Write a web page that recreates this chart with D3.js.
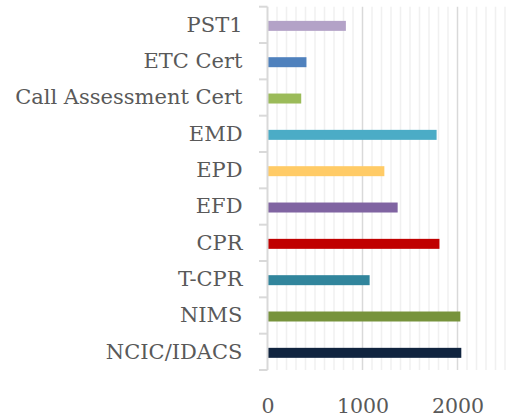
<!DOCTYPE html>
<html>
<head>
<meta charset="utf-8">
<script src="https://cdn.jsdelivr.net/npm/d3@7"></script>
<style>
  html, body { margin: 0; padding: 0; background: #fff; }
  svg { display: block; }
  text { font-family: "DejaVu Serif", "Liberation Serif", serif; fill: #595959; }
</style>
</head>
<body>
<svg id="chart" width="517" height="420"></svg>
<script>
// Data (bottom to top, as in the source chart)
const categories = ["NCIC/IDACS", "NIMS", "T-CPR", "CPR", "EFD", "EPD", "EMD", "Call Assessment Cert", "ETC Cert", "PST1"];
const values = [2040, 2030, 1075, 1810, 1370, 1230, 1780, 355, 410, 825];
const colors = ["#10243F", "#77933C", "#31859C", "#C00000", "#8064A2", "#FFCB66", "#4BACC6", "#9BBB59", "#4F81BD", "#B3A2C7"];
const xTickValues = [0, 1000, 2000];
const xMax = 2500;
const minorStep = 100;

const svg = d3.select("#chart");
const mLeft = 267.5, mRight = 505, mTop = 6.7, mBottom = 370;

const x = d3.scaleLinear().domain([0, xMax]).range([mLeft, mRight]);
const y = d3.scaleBand()
  .domain(categories.slice().reverse())
  .range([mTop, mBottom])
  .paddingInner(0.725)
  .paddingOuter(0.3625);

// minor gridlines
svg.append("g")
  .selectAll("line")
  .data(d3.range(minorStep, xMax + 1, minorStep).filter(v => v % 1000 !== 0))
  .join("line")
  .attr("x1", d => x(d)).attr("x2", d => x(d))
  .attr("y1", mTop).attr("y2", mBottom)
  .attr("stroke", "#f0f0f0").attr("stroke-width", 1.5);

// major gridlines
svg.append("g")
  .selectAll("line")
  .data(xTickValues.filter(v => v > 0))
  .join("line")
  .attr("x1", d => x(d)).attr("x2", d => x(d))
  .attr("y1", mTop).attr("y2", mBottom)
  .attr("stroke", "#d9d9d9").attr("stroke-width", 1.5);

// bars
svg.append("g")
  .selectAll("rect")
  .data(categories)
  .join("rect")
  .attr("x", x(0))
  .attr("y", d => y(d) + 1)
  .attr("width", (d, i) => x(values[i]) - x(0))
  .attr("height", y.bandwidth())
  .attr("fill", (d, i) => colors[i]);

// y axis
const yAxis = d3.axisLeft(y).tickSize(0).tickPadding(25);
const gy = svg.append("g").attr("transform", `translate(${mLeft},0)`).call(yAxis);
gy.select(".domain").remove();
gy.selectAll("text").attr("font-size", 21).attr("font-family", null).attr("fill", "#595959");

svg.append("line")
  .attr("x1", mLeft).attr("x2", mLeft).attr("y1", mTop).attr("y2", mBottom)
  .attr("stroke", "#d9d9d9").attr("stroke-width", 2);

// category boundary ticks
const bounds = d3.range(categories.length + 1).map(i => mTop + i * y.step());
svg.append("g").selectAll("line").data(bounds).join("line")
  .attr("x1", mLeft - 8.5).attr("x2", mLeft)
  .attr("y1", d => d).attr("y2", d => d)
  .attr("stroke", "#d9d9d9").attr("stroke-width", 2);

// x axis labels
const xAxis = d3.axisBottom(x).tickValues(xTickValues).tickSize(0).tickPadding(28).tickFormat(d3.format("d"));
const gx = svg.append("g").attr("transform", `translate(0,${mBottom})`).call(xAxis);
gx.select(".domain").remove();
gx.selectAll("text").attr("font-size", 20.5).attr("font-family", null).attr("fill", "#595959");
</script>
</body>
</html>
